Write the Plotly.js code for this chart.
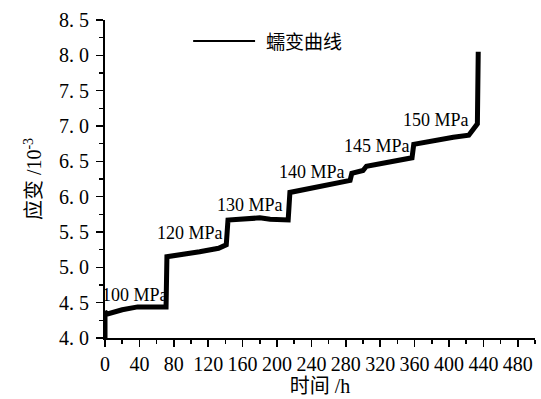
<!DOCTYPE html>
<html>
<head>
<meta charset="utf-8">
<script src="https://cdn.plot.ly/plotly-3.0.1.min.js"></script>
<style>html,body{margin:0;padding:0;background:#fff;}#chart{width:541px;height:399px;}</style>
</head>
<body>
<div id="chart"></div>
<script>
// Creep curve data (time in h, strain in 10^-3)
var timeH = [0, 0, 3, 20, 38, 71, 72, 90, 110, 132, 136, 141, 143, 160, 180, 192, 213, 215, 240, 262, 285, 287, 300, 304, 320, 340, 357, 359, 380, 405, 423, 430, 433, 434];
var strain = [4.00, 4.37, 4.34, 4.40, 4.44, 4.44, 5.15, 5.18, 5.22, 5.27, 5.30, 5.32, 5.67, 5.69, 5.70, 5.68, 5.67, 6.06, 6.12, 6.17, 6.23, 6.33, 6.37, 6.43, 6.47, 6.51, 6.55, 6.74, 6.79, 6.84, 6.87, 6.98, 7.03, 8.05];

// Stress level labels
var stressLabels = ["100 MPa", "120 MPa", "130 MPa", "140 MPa", "145 MPa", "150 MPa"];
var labelTime = [35, 99, 169, 241, 316, 385];
var labelStrain = [4.61, 5.49, 5.88, 6.35, 6.72, 7.08];

// Axis ticks
var xTickVals = [0, 40, 80, 120, 160, 200, 240, 280, 320, 360, 400, 440, 480];
var yTickVals = [4.0, 4.5, 5.0, 5.5, 6.0, 6.5, 7.0, 7.5, 8.0, 8.5];
var yTickText = ["4. 0", "4. 5", "5. 0", "5. 5", "6. 0", "6. 5", "7. 0", "7. 5", "8. 0", "8. 5"];

var seriesName = "蠕变曲线";
var xTitle = "时间 /h";
var yTitle = "应变 /10<sup>-3</sup>";

var serif = "Liberation Serif, Noto Sans CJK SC, serif";

var traces = [{
  x: timeH, y: strain, mode: "lines", type: "scatter",
  line: {color: "#000", width: 5, shape: "linear"},
  showlegend: false, name: seriesName, hoverinfo: "skip"
}];

var annotations = stressLabels.map(function(t, i){
  return {x: labelTime[i], y: labelStrain[i], xref: "x", yref: "y", text: t, showarrow: false,
    font: {family: serif, size: 18, color: "#000"}};
});
annotations.push({x: 0.37, y: 0.934, xref: "paper", yref: "paper", text: seriesName, showarrow: false,
  xanchor: "left", yanchor: "middle", font: {family: "Noto Sans CJK SC, sans-serif", size: 19, color: "#000"}});

var layout = {
  width: 541, height: 399,
  margin: {l: 105, r: 6, t: 20, b: 61},
  paper_bgcolor: "#fff", plot_bgcolor: "#fff",
  showlegend: false,
  font: {family: serif, color: "#000"},
  xaxis: {
    range: [0, 500], tickvals: xTickVals, showgrid: false, zeroline: false,
    showline: true, linecolor: "#000", linewidth: 2,
    ticks: "outside", ticklen: 7, tickwidth: 1.5, tickcolor: "#000",
    minor: {ticks: "outside", dtick: 20, ticklen: 4, tickwidth: 1.5, tickcolor: "#000"},
    tickfont: {family: serif, size: 20, color: "#000"},
    title: {text: xTitle, font: {family: serif, size: 20, color: "#000"}, standoff: 5}
  },
  yaxis: {
    range: [4, 8.5], tickvals: yTickVals, ticktext: yTickText, showgrid: false, zeroline: false,
    showline: true, linecolor: "#000", linewidth: 2,
    ticks: "outside", ticklen: 7, tickwidth: 1.5, tickcolor: "#000",
    minor: {ticks: "outside", dtick: 0.25, ticklen: 4, tickwidth: 1.5, tickcolor: "#000"},
    tickfont: {family: serif, size: 20, color: "#000"},
    ticklabelstandoff: 3,
    title: {text: yTitle, font: {family: serif, size: 20, color: "#000"}, standoff: 12}
  },
  shapes: [{type: "line", xref: "paper", yref: "paper", x0: 0.205, x1: 0.349, y0: 0.934, y1: 0.934,
    line: {color: "#000", width: 2}}],
  annotations: annotations
};

Plotly.newPlot("chart", traces, layout, {staticPlot: true, displayModeBar: false});
</script>
</body>
</html>
